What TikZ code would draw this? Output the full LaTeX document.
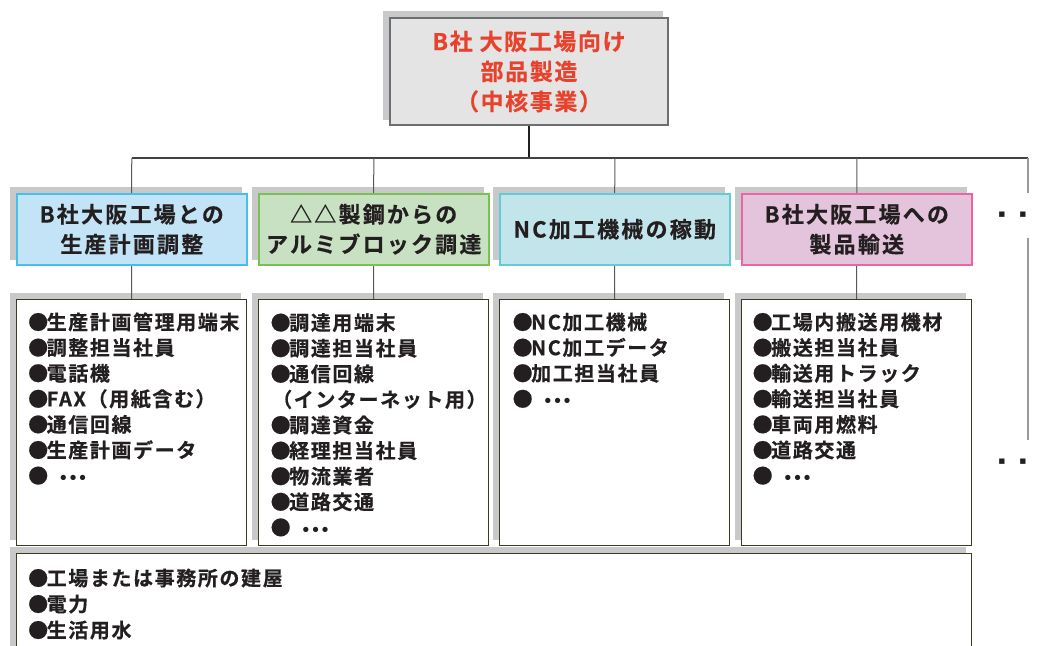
\documentclass[tikz,border=0pt]{standalone}
\usepackage{fontspec}
\setmainfont{Noto Sans CJK JP Bold}
\newfontfamily\jptop{Noto Sans CJK JP Bold}[LetterSpace=7,FakeBold=0.5]
\newfontfamily\jphead{Noto Sans CJK JP Bold}[LetterSpace=10,FakeBold=0.5]
\newfontfamily\jplist{Noto Sans CJK JP Bold}[LetterSpace=8,FakeBold=0.5]
\newfontfamily\dejavu{DejaVu Sans}
\usetikzlibrary{positioning}
\definecolor{ink}{HTML}{231F20}
\definecolor{shd}{HTML}{C8C9CB}
\definecolor{topfill}{HTML}{E3E4E3}
\definecolor{topline}{HTML}{6D6E70}
\definecolor{topred}{HTML}{E8412C}
\definecolor{fillA}{HTML}{C3E4F6}
\definecolor{lineA}{HTML}{45C0EA}
\definecolor{fillB}{HTML}{C7E1C2}
\definecolor{lineB}{HTML}{79C251}
\definecolor{fillC}{HTML}{C1E5EB}
\definecolor{lineC}{HTML}{63CAD8}
\definecolor{fillD}{HTML}{E4C3DC}
\definecolor{lineD}{HTML}{EE64A3}
\definecolor{listline}{HTML}{3B3B22}
\definecolor{rightgray}{HTML}{9A9A9A}
\newcommand\bul{\makebox[17pt][c]{●}}
\newcommand\etcdots{\hspace{12pt}{\dejavu\bfseries\fontsize{15}{15}\selectfont •••}}
\pgfdeclarelayer{shadow}
\pgfdeclarelayer{lines}
\pgfsetlayers{shadow,lines,main}
\begin{document}
\begin{tikzpicture}[x=1pt,y=-1pt,
  topbox/.style={draw=topline, line width=2pt, fill=topfill, minimum width=278pt, minimum height=107pt, inner sep=0pt, align=center, text=topred, font=\jptop\fontsize{23}{30}\selectfont},
  hbox/.style={line width=1.5pt, minimum width=230pt, minimum height=71pt, inner sep=0pt, align=center, text=ink, font=\jphead\fontsize{22}{30}\selectfont},
  lbox/.style={draw=listline, line width=1.4pt, fill=white, minimum width=230pt, minimum height=246pt, inner sep=0pt},
  item/.style={anchor=base west, inner sep=0pt, text=ink, font=\jplist\fontsize{20}{25}\selectfont},
  shadowbox/.style={fill=shd},
  trunk/.style={draw=ink, line width=2pt},
  busline/.style={draw=ink!85, line width=1.2pt},
  colline/.style={draw=ink!75, line width=1pt},
  rightline/.style={draw=rightgray, line width=2pt},
  sq/.style={inner sep=0pt, text=ink, font=\dejavu\fontsize{7}{7}\selectfont},
]
\path[use as bounding box, clip] (0,0) rectangle (1043,645);

% top box
\node[topbox, anchor=north west] (top) at (389,17) {B社 大阪工場向け\\部品製造\\（中核事業）};

% header boxes
\node[hbox, draw=lineA, fill=fillA, anchor=north west] (h1) at (16,193) {B社大阪工場との\\生産計画調整};
\node[hbox, draw=lineB, fill=fillB, anchor=north west] (h2) at (258,193) {△△製鋼からの\\アルミブロック調達};
\node[hbox, draw=lineC, fill=fillC, anchor=north west] (h3) at (499,193) {NC加工機械の稼動};
\node[hbox, draw=lineD, fill=fillD, anchor=north west] (h4) at (741,193) {B社大阪工場への\\製品輸送};

% list boxes
\node[lbox, anchor=north west] (l1) at (16,299) {};
\node[lbox, anchor=north west] (l2) at (258,299) {};
\node[lbox, anchor=north west] (l3) at (499,299) {};
\node[lbox, anchor=north west] (l4) at (741,299) {};
\node[lbox, minimum width=955pt, minimum height=130pt, anchor=north west] (bot) at (16,553) {};

% list items
\foreach \t [count=\i] in {{\bul 生産計画管理用端末},{\bul 調整担当社員},{\bul 電話機},{\bul FAX（用紙含む）},{\bul 通信回線},{\bul 生産計画データ},{\bul\etcdots}}
  \node[item] (a\i) at (29.5,{329.6+25.6*(\i-1)}) {\t};
\foreach \t [count=\i] in {{\bul 調達用端末},{\bul 調達担当社員},{\bul 通信回線},{（インターネット用）},{\bul 調達資金},{\bul 経理担当社員},{\bul 物流業者},{\bul 道路交通},{\bul\etcdots}}
  \node[item] (b\i) at (272,{330.2+25.6*(\i-1)}) {\t};
\foreach \t [count=\i] in {{\bul NC加工機械},{\bul NC加工データ},{\bul 加工担当社員},{\bul\etcdots}}
  \node[item] (c\i) at (514,{329.6+25.6*(\i-1)}) {\t};
\foreach \t [count=\i] in {{\bul 工場内搬送用機材},{\bul 搬送担当社員},{\bul 輸送用トラック},{\bul 輸送担当社員},{\bul 車両用燃料},{\bul 道路交通},{\bul\etcdots}}
  \node[item] (d\i) at (754,{329.6+25.6*(\i-1)}) {\t};
\foreach \t [count=\i] in {{\bul 工場または事務所の建屋},{\bul 電力},{\bul 生活用水}}
  \node[item] (e\i) at (29.5,{585.6+26*(\i-1)}) {\t};

% ellipsis marks on the right
\node[sq] (q1) at (1002,215) {■};
\node[sq] (q2) at (1023,215) {■};
\node[sq] (q3) at (1002,462) {■};
\node[sq] (q4) at (1023,462) {■};

% shadows
\begin{pgfonlayer}{shadow}
\foreach \n in {top,h1,h2,h3,h4,l1,l2,l3,l4,bot}
  \fill[shadowbox] ([shift={(-6,-6)}]\n.south west) rectangle ([shift={(-6,-6)}]\n.north east);
\end{pgfonlayer}

% connectors
\coordinate (bus) at (529,158);
\coordinate (busend) at (1028,158);
\coordinate (gapA) at (1028,193);
\coordinate (vA) at (1028,238);
\coordinate (vB) at (1028,440);
\begin{pgfonlayer}{lines}
\draw[trunk] (top.south) -- (top.south |- bus);
\draw[busline] (h1.north |- bus) -- (busend);
\draw[rightline] (busend) -- (gapA);
\draw[rightline] (vA) -- (vB);
\foreach \i in {1,2,3,4}
  \draw[colline] (h\i.north |- bus) -- (l\i.north);
\end{pgfonlayer}
\end{tikzpicture}
\end{document}
